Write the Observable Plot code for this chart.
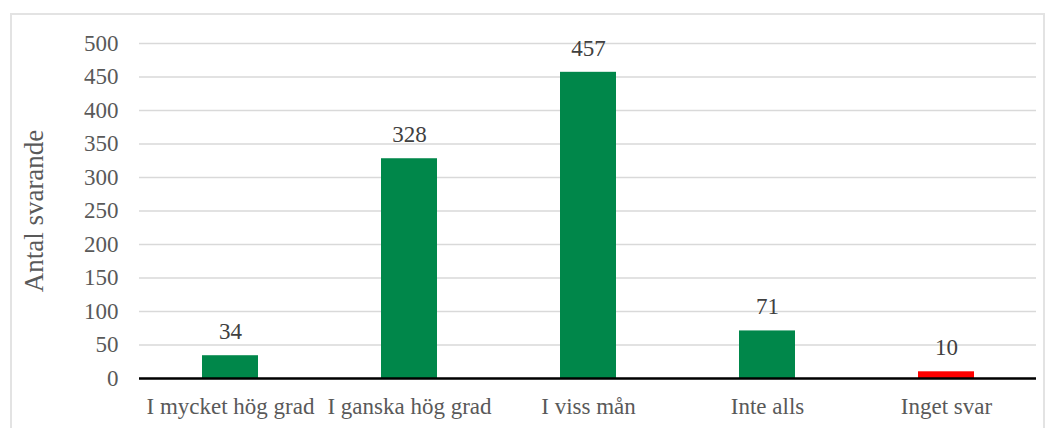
<!DOCTYPE html>
<html>
<head>
<meta charset="utf-8">
<script src="https://cdn.jsdelivr.net/npm/d3@7"></script>
<script src="https://cdn.jsdelivr.net/npm/@observablehq/plot@0.6"></script>
<style>
  html, body { margin: 0; padding: 0; background: #fff; }
  #wrap { position: relative; width: 1053px; height: 428px; overflow: hidden; }
  #frame { position: absolute; left: 10px; top: 13px; width: 1035px; height: 430px; border: 2px solid #e3e3e3; box-sizing: border-box; }
  #chart { position: absolute; left: 0; top: 0; }
  #chart svg, #chart svg text { font-family: 'Liberation Serif', 'Times New Roman', serif !important; }
</style>
</head>
<body>
<div id="wrap"><div id="frame"></div><div id="chart"></div></div>
<script>
const categories = ["I mycket hög grad", "I ganska hög grad", "I viss mån", "Inte alls", "Inget svar"];
const values = [34, 328, 457, 71, 10];
const barColors = ["#00874a", "#00874a", "#00874a", "#00874a", "#ff0000"];
const yTicks = [0, 50, 100, 150, 200, 250, 300, 350, 400, 450, 500];
const yTitle = "Antal svarande";

const data = categories.map((c, i) => ({category: c, value: values[i], color: barColors[i]}));
const serif = "'Liberation Serif', 'Times New Roman', serif";

const chart = Plot.plot({
  width: 1053,
  height: 428,
  marginLeft: 139,
  marginRight: 17,
  marginTop: 43,
  marginBottom: 50,
  style: {fontFamily: serif, fontSize: "23px", color: "#595959", background: "transparent"},
  x: {domain: categories, paddingInner: 0.688, paddingOuter: 0.344, label: null},
  y: {domain: [0, 500], label: null},
  marks: [
    Plot.gridY(yTicks, {stroke: "#d9d9d9", strokeOpacity: 1, strokeWidth: 1.5}),
    Plot.axisY(yTicks, {tickSize: 0, tickPadding: 21, fill: "#595959", fontSize: 23, fontFamily: serif, label: null}),
    Plot.axisX({tickSize: 0, tickPadding: 19, fill: "#595959", fontSize: 23, fontFamily: serif, label: null}),
    Plot.text([yTitle], {frameAnchor: "left", textAnchor: "middle", rotate: -90, dx: -105, fontSize: 27, fill: "#595959", fontFamily: serif}),
    Plot.barY(data, {x: "category", y: "value", fill: "color"}),
    Plot.ruleY([0], {stroke: "#000", strokeWidth: 2.5}),
    Plot.text(data, {x: "category", y: "value", text: d => String(d.value), dy: -24, fill: "#404040", fontSize: 23, fontFamily: serif})
  ]
});
document.getElementById("chart").appendChild(chart);
</script>
</body>
</html>
